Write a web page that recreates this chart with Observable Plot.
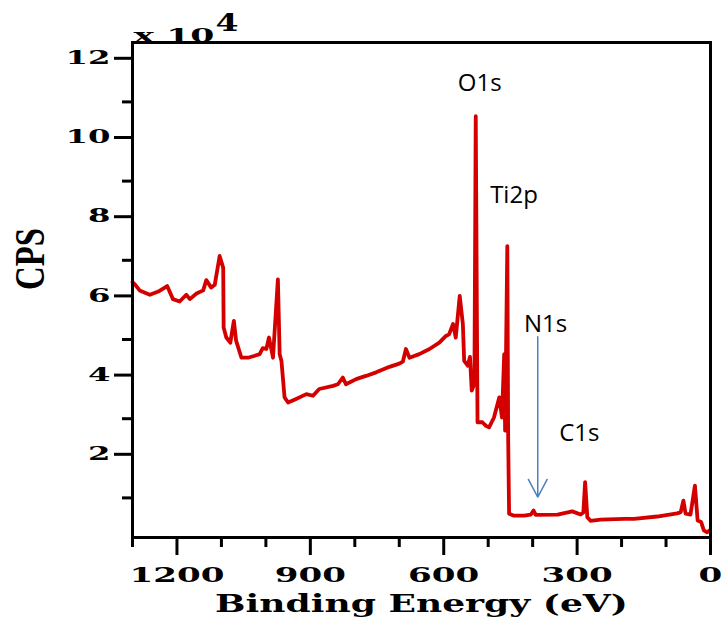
<!DOCTYPE html>
<html><head><meta charset="utf-8">
<script src="https://cdn.jsdelivr.net/npm/d3@7"></script>
<script src="https://cdn.jsdelivr.net/npm/@observablehq/plot@0.6"></script>
<style>html,body{margin:0;padding:0;background:#fff;}</style>
</head><body><div id="chart"></div>
<script>
const energy = [1300, 1295, 1284, 1261, 1242, 1222, 1209, 1194, 1179, 1171, 1156, 1141, 1134, 1123, 1115, 1104, 1096, 1095, 1089, 1080, 1072, 1067, 1055, 1040, 1025, 1014, 1007, 999, 993, 984, 973, 969, 965, 958, 950, 932, 909, 894, 880, 849, 838, 827, 820, 797, 775, 752, 722, 700, 692, 685, 677, 655, 632, 610, 595, 588, 579, 573, 564, 557, 554, 546, 541, 537, 531, 528, 524, 513, 505, 498, 487, 475, 469, 464, 462, 457, 455, 453, 442, 419, 404, 398, 393, 344, 311, 292, 286, 282, 277, 270, 247, 195, 172, 120, 75, 67, 61, 56, 45, 35, 29, 21, 15, 7.5, 1.6];
const cps = [6.45, 6.40, 6.24, 6.13, 6.21, 6.35, 6.02, 5.96, 6.13, 6.02, 6.16, 6.24, 6.50, 6.31, 6.38, 7.11, 6.81, 5.30, 5.05, 4.92, 5.47, 4.97, 4.54, 4.54, 4.59, 4.63, 4.78, 4.76, 5.05, 4.54, 6.52, 4.63, 4.46, 3.54, 3.41, 3.50, 3.62, 3.58, 3.75, 3.83, 3.87, 4.04, 3.87, 4.00, 4.08, 4.17, 4.31, 4.39, 4.44, 4.76, 4.54, 4.63, 4.76, 4.92, 5.09, 5.13, 5.39, 5.05, 6.10, 5.39, 4.46, 4.34, 4.56, 3.71, 3.88, 10.64, 2.91, 2.91, 2.82, 2.78, 3.03, 3.54, 3.03, 4.63, 2.70, 7.36, 2.45, 0.60, 0.55, 0.55, 0.58, 0.68, 0.57, 0.58, 0.66, 0.58, 0.63, 1.40, 0.51, 0.42, 0.45, 0.47, 0.47, 0.53, 0.61, 0.64, 0.93, 0.60, 0.58, 1.31, 0.43, 0.39, 0.18, 0.13, 0.18];
const xMajorTicks = [1200, 900, 600, 300, 0];
const xMinorTicks = [1300, 1100, 1000, 800, 700, 500, 400, 200, 100];
const yMajorTicks = [2, 4, 6, 8, 10, 12];
const yMinorTicks = [1, 3, 5, 7, 9, 11];
const peakNames = ["O1s", "Ti2p", "N1s", "C1s"];
const peakLabelEnergy = [519, 442, 371, 295];
const peakLabelCps = [11.47, 8.63, 5.39, 2.63];
const arrowEnergy = [388.5];
const arrowFrom = [5.07];
const arrowTo = [1.02];
const xTitle = ["Binding Energy (eV)"];
const yTitle = ["CPS"];
const multiplierBase = ["x 10"];
const multiplierExp = ["4"];

const spectrum = energy.map((e, i) => ({e, v: cps[i]}));
const peaks = peakNames.map((name, i) => ({name, e: peakLabelEnergy[i], v: peakLabelCps[i]}));
const arrows = arrowEnergy.map((e, i) => ({e, v1: arrowFrom[i], v2: arrowTo[i]}));

const serif = "'DejaVu Serif', serif";
const chart = Plot.plot({
  width: 723, height: 617,
  marginLeft: 132, marginRight: 13, marginTop: 42, marginBottom: 80,
  style: {background: "white", color: "black", fontFamily: serif},
  x: {domain: [1300, 0]},
  y: {domain: [0, 12.5]},
  marks: [
    Plot.line(spectrum, {x: "e", y: "v", stroke: "#d40000", strokeWidth: 3.8, strokeLinejoin: "round", strokeLinecap: "round"}),
    Plot.arrow(arrows, {x1: "e", x2: "e", y1: "v1", y2: "v2", stroke: "#4f81bd", strokeWidth: 1.5, headLength: 20, headAngle: 56}),
    Plot.text(peaks, {x: "e", y: "v", text: "name", fontFamily: "'Open Sans', sans-serif", fontSize: 24, fill: "black", lineAnchor: "middle"}),
    Plot.frame({stroke: "black", strokeWidth: 3}),
    Plot.axisX({ticks: xMajorTicks, tickSize: 18, tickPadding: 12, strokeWidth: 3, tickFormat: d => String(d), fontSize: 20, fontWeight: "bold", fontFamily: serif, label: null}),
    Plot.axisX({ticks: xMinorTicks, tickSize: 10, strokeWidth: 3, tickFormat: () => "", label: null}),
    Plot.axisY({ticks: yMajorTicks, tickSize: 18, tickPadding: 4, dy: -4, strokeWidth: 3, tickFormat: d => String(d), fontSize: 18, fontWeight: "bold", fontFamily: serif, label: null}),
    Plot.axisY({ticks: yMinorTicks, tickSize: 10, strokeWidth: 3, tickFormat: () => "", label: null}),
    Plot.text(xTitle, {text: d => d, frameAnchor: "bottom", dy: 66, lineAnchor: "middle", fontSize: 25, fontWeight: "bold", fontFamily: serif}),
    Plot.text(yTitle, {text: d => d, frameAnchor: "left", dx: -102, rotate: -90, lineAnchor: "middle", fontSize: 33, fontWeight: "bold", fontFamily: "'Liberation Serif', serif"}),
    Plot.text(multiplierBase, {text: d => d, frameAnchor: "top-left", textAnchor: "start", lineAnchor: "bottom", dx: 1, dy: -1, fontSize: 19, fontWeight: "bold", fontFamily: serif}),
    Plot.text(multiplierExp, {text: d => d, frameAnchor: "top-left", textAnchor: "start", lineAnchor: "bottom", dx: 83, dy: -12, fontSize: 24, fontWeight: "bold", fontFamily: serif})
  ]
});
document.getElementById("chart").append(chart);

// Stretch the wide bold serif lettering horizontally, as in the reference figure.
try {
  const all = Array.from(chart.querySelectorAll("text")).filter(n => n.textContent);
  const parentLabel = n => n.parentNode.getAttribute("aria-label") || "";
  const xTicks = all.filter(n => parentLabel(n) === "x-axis tick label");
  const yTicks = all.filter(n => parentLabel(n) === "y-axis tick label");
  const other = all.filter(n => !/axis/.test(parentLabel(n)));
  const widthOf = n => n.getBBox().width;
  const apply = (n, sx, sy) => {
    const tr = n.getAttribute("transform") || "";
    n.setAttribute("transform", `${tr} scale(${sx},${sy})`);
  };
  const refX = xTicks.find(n => n.textContent === "1200");
  const sX = refX ? 95 / widthOf(refX) : 1.7;
  xTicks.forEach(n => apply(n, sX, 1));
  const refY = yTicks.find(n => n.textContent === "10");
  const sY = refY ? 45 / widthOf(refY) : 1.75;
  yTicks.forEach(n => apply(n, sY, 1));
  other.forEach(n => {
    const t = n.textContent;
    if (t === xTitle[0]) apply(n, 413 / widthOf(n), 1);
    else if (t === yTitle[0]) apply(n, 62 / widthOf(n), 1.3);
    else if (t === multiplierBase[0]) apply(n, 81 / widthOf(n), 1);
    else if (t === multiplierExp[0]) apply(n, 23 / widthOf(n), 1);
  });
} catch (e) {}
</script>
</body></html>
